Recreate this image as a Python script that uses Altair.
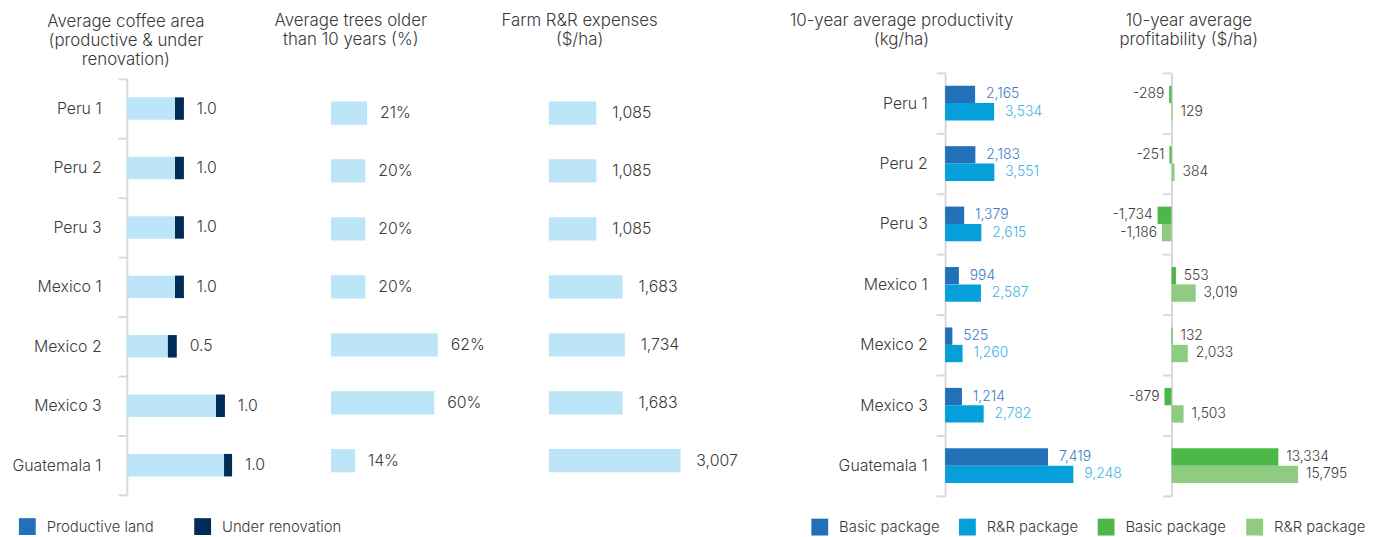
import altair as alt
import pandas as pd

# ---------------- data ----------------
regions = ["Peru 1", "Peru 2", "Peru 3", "Mexico 1", "Mexico 2", "Mexico 3", "Guatemala 1"]
productive_area = [5.4, 5.4, 5.4, 5.4, 4.6, 10.0, 10.9]
renovation_area = [1.0, 1.0, 1.0, 1.0, 1.0, 1.0, 0.9]
area_labels = ["1.0", "1.0", "1.0", "1.0", "0.5", "1.0", "1.0"]
trees_pct = [21, 20, 20, 20, 62, 60, 14]
rr_expenses = [1085, 1085, 1085, 1683, 1734, 1683, 3007]
prod_basic = [2165, 2183, 1379, 994, 525, 1214, 7419]
prod_rr = [3534, 3551, 2615, 2587, 1260, 2782, 9248]
profit_basic = [-289, -251, -1734, 553, 132, -879, 13334]
profit_rr = [129, 384, -1186, 3019, 2033, 1503, 15795]
packages = ["Basic package", "R&R package"]
area_legend = ["Productive land", "Under renovation"]

# ---------------- style ----------------
FONT = "Inter"
FW = 300
TXT = "#3a3a3a"
GRID = "#d9d9d9"
LIGHT = "#bde5f8"
NAVY = "#002d57"
BLUE1 = "#2170b8"
BLUE2 = "#059fd9"
GREEN1 = "#4db848"
GREEN2 = "#8fcb80"
LBL1 = "#3b7cc4"
LBL2 = "#3fb2e6"


def title(lines, dx, offset):
    return alt.TitleParams(text=lines, font=FONT, fontSize=17, fontWeight=FW,
                           color=TXT, anchor="middle", frame="group", dx=dx,
                           offset=offset, lineHeight=19, baseline="bottom")


def legend(x, y, colpad):
    return alt.Legend(orient="none", legendX=x, legendY=y, direction="horizontal",
                      title=None, symbolType="square", symbolSize=289,
                      symbolStrokeWidth=0, labelFontSize=15, labelFont=FONT,
                      labelFontWeight=FW, labelColor=TXT, labelOffset=11,
                      columnPadding=colpad, padding=0, symbolOpacity=1)


def yaxis(**kw):
    base = dict(title=None, domainColor=GRID, domainWidth=2, tickColor=GRID,
                tickWidth=2, tickSize=9, tickBand="extent", labelFont=FONT,
                labelFontSize=16, labelFontWeight=FW, labelColor=TXT, grid=False)
    base.update(kw)
    return alt.Axis(**base)


# ---------------- panel 1: coffee area ----------------
W1 = 206
df1 = pd.DataFrame({
    "region": regions,
    "prod": productive_area,
    "total": [p + r for p, r in zip(productive_area, renovation_area)],
    "label": area_labels,
})
y1 = alt.Y("region:N", sort=regions,
           scale=alt.Scale(domain=regions, range=[6, 426], paddingInner=0, paddingOuter=0),
           axis=yaxis(labelPadding=17, minExtent=120))
x1 = alt.X("prod:Q", scale=alt.Scale(domain=[0, W1 / 9], nice=False, zero=False), axis=None)
b1 = alt.Chart(df1)
p1_prod = b1.mark_bar(height=22.7, color=LIGHT).encode(x=x1, y=y1)
p1_ren = b1.mark_bar(height=22.7, color=NAVY).encode(x=x1, x2="total:Q", y=y1)
p1_txt = b1.mark_text(align="left", baseline="middle", dx=13, font=FONT, fontSize=16,
                      fontWeight=FW, color=TXT).encode(x="total:Q", y=y1, text="label:N")
p1_leg = alt.Chart(pd.DataFrame({"item": area_legend, "show": [0, 0]})).transform_filter(
    "datum.show > 0").mark_square().encode(
    color=alt.Color("item:N", scale=alt.Scale(domain=area_legend, range=[BLUE1, NAVY]),
                    legend=legend(-109, 449.5, 40)))
p1 = alt.layer(p1_prod, p1_ren, p1_txt, p1_leg).properties(
    width=W1, height=430,
    title=title(["Average coffee area", "(productive & under", "renovation)"], -104, -20.6))

# ---------------- panel 2: trees older than 10 years ----------------
W2 = 220
df2 = pd.DataFrame({"region": regions, "pct": trees_pct,
                    "label": [f"{v}%" for v in trees_pct]})
y2 = alt.Y("region:N", sort=regions,
           scale=alt.Scale(domain=regions, range=[11.25, 420.75], paddingInner=0, paddingOuter=0),
           axis=None)
x2 = alt.X("pct:Q", scale=alt.Scale(domain=[0, W2 / 1.74], nice=False), axis=None)
b2 = alt.Chart(df2)
p2 = alt.layer(
    b2.mark_bar(height=23.5, color=LIGHT).encode(x=x2, y=y2),
    b2.mark_text(align="left", baseline="middle", dx=13, font=FONT, fontSize=16,
                 fontWeight=FW, color=TXT).encode(x=x2, y=y2, text="label:N"),
).properties(width=W2, height=430,
             title=title(["Average trees older", "than 10 years (%)"], -90, 6.9))

# ---------------- panel 3: R&R expenses ----------------
W3 = 400
df3 = pd.DataFrame({"region": regions, "exp": rr_expenses,
                    "label": [f"{v:,}" for v in rr_expenses]})
x3 = alt.X("exp:Q", scale=alt.Scale(domain=[0, W3 / 0.0442], nice=False), axis=None)
b3 = alt.Chart(df3)
p3 = alt.layer(
    b3.mark_bar(height=23.5, color=LIGHT).encode(x=x3, y=y2),
    b3.mark_text(align="left", baseline="middle", dx=16, font=FONT, fontSize=16,
                 fontWeight=FW, color=TXT).encode(x=x3, y=y2, text="label:N"),
).properties(width=W3, height=430,
             title=title(["Farm R&R expenses", "($/ha)"], -169, 6.9))

# ---------------- panel 4: productivity ----------------
W4 = 214
RANGE_R = [0, 427]
rows4 = []
for r, a, b in zip(regions, prod_basic, prod_rr):
    rows4.append({"region": r, "package": packages[0], "value": a, "label": f"{a:,}"})
    rows4.append({"region": r, "package": packages[1], "value": b, "label": f"{b:,}"})
df4 = pd.DataFrame(rows4)
y4 = alt.Y("region:N", sort=regions,
           scale=alt.Scale(domain=regions, range=RANGE_R, paddingInner=0, paddingOuter=0),
           axis=yaxis(labelPadding=9))
yo = alt.YOffset("package:N", sort=packages,
                 scale=alt.Scale(domain=packages, paddingInner=0, paddingOuter=0.74))
x4 = alt.X("value:Q", scale=alt.Scale(domain=[0, W4 / 0.014], nice=False), axis=None)
b4 = alt.Chart(df4)
p4 = alt.layer(
    b4.mark_bar().encode(
        x=x4, y=y4, yOffset=yo,
        color=alt.Color("package:N", scale=alt.Scale(domain=packages, range=[BLUE1, BLUE2]),
                        legend=legend(-135, 450, 19))),
    b4.transform_filter(alt.datum.package == packages[0]).mark_text(
        align="left", baseline="middle", dx=11, font=FONT, fontSize=14, fontWeight=FW,
        color=LBL1).encode(x=x4, y=y4, yOffset=yo, text="label:N"),
    b4.transform_filter(alt.datum.package == packages[1]).mark_text(
        align="left", baseline="middle", dx=11, font=FONT, fontSize=14, fontWeight=FW,
        color=LBL2).encode(x=x4, y=y4, yOffset=yo, text="label:N"),
).properties(width=W4, height=430,
             title=title(["10-year average productivity", "(kg/ha)"], -151, -1.1))

# ---------------- panel 5: profitability ----------------
rows5 = []
for r, a, b in zip(regions, profit_basic, profit_rr):
    rows5.append({"region": r, "package": packages[0], "value": a, "label": f"{a:,}"})
    rows5.append({"region": r, "package": packages[1], "value": b, "label": f"{b:,}"})
df5 = pd.DataFrame(rows5)
dmin, dmax, W5 = -1800, 16000, 144
zero_px = (0 - dmin) / (dmax - dmin) * W5
y5 = alt.Y("region:N", sort=regions,
           scale=alt.Scale(domain=regions, range=RANGE_R, paddingInner=0, paddingOuter=0),
           axis=yaxis(labels=False, offset=-zero_px))
x5 = alt.X("value:Q", scale=alt.Scale(domain=[dmin, dmax], nice=False, zero=False), axis=None)
b5 = alt.Chart(df5)
p5 = alt.layer(
    b5.mark_bar().encode(
        x=x5, x2=alt.datum(0), y=y5, yOffset=yo,
        color=alt.Color("package:N", scale=alt.Scale(domain=packages, range=[GREEN1, GREEN2]),
                        legend=legend(-60, 450, 20))),
    b5.transform_filter(alt.datum.value < 0).mark_text(
        align="right", baseline="middle", dx=-5, font=FONT, fontSize=14, fontWeight=FW,
        color=TXT).encode(x=x5, y=y5, yOffset=yo, text="label:N"),
    b5.transform_filter(alt.datum.value >= 0).mark_text(
        align="left", baseline="middle", dx=8, font=FONT, fontSize=14, fontWeight=FW,
        color=TXT).encode(x=x5, y=y5, yOffset=yo, text="label:N"),
).properties(width=W5, height=430,
             title=title(["10-year average", "profitability ($/ha)"], -40, 5.9))

chart = alt.hconcat(p1, p2, p3, p4, p5, spacing=0, bounds="flush").resolve_scale(
    x="independent", y="independent", color="independent"
).properties(padding={"left": 0, "top": 2, "right": 10, "bottom": 0}
).configure_view(stroke=None)

chart.save("out.html", embed_options={"renderer": "svg", "actions": False})
